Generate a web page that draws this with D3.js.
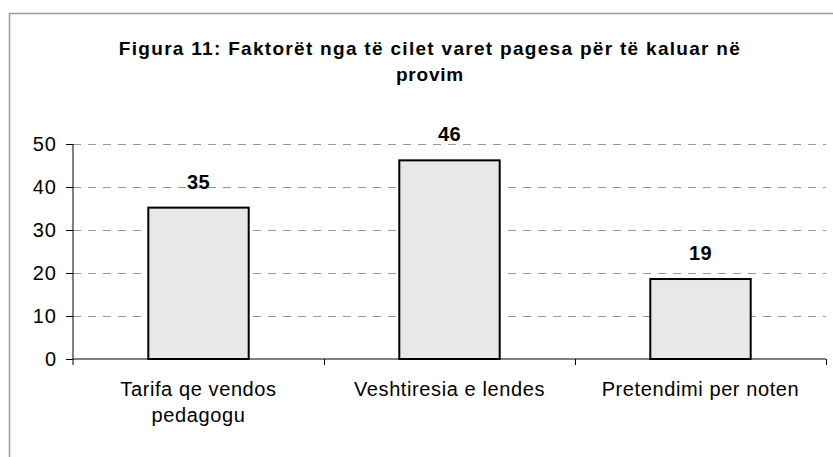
<!DOCTYPE html>
<html>
<head>
<meta charset="utf-8">
<script src="https://cdn.jsdelivr.net/npm/d3@7"></script>
<style>
  body { margin: 0; background: #fff; }
  svg { display: block; font-family: "Liberation Sans", Arial, sans-serif; }
</style>
</head>
<body>
<svg id="chart" width="833" height="457"></svg>
<script>
// chart data
var titleLines = ["Figura 11: Faktorët nga të cilet varet pagesa për të kaluar në", "provim"];
var categories = [["Tarifa qe vendos", "pedagogu"], ["Veshtiresia e lendes"], ["Pretendimi per noten"]];
var values = [35.2, 46.2, 18.6];
var valueLabels = ["35", "46", "19"];
var yTicks = [0, 10, 20, 30, 40, 50];

var width = 833, height = 457;
var margin = { top: 144, right: 7, bottom: 98, left: 73 };
var plotRight = width - margin.right;
var plotBottom = height - margin.bottom;

var svg = d3.select("#chart");

// outer frame, runs off the right and bottom edges
svg.append("rect")
    .attr("x", 9.5).attr("y", 13.5)
    .attr("width", 900).attr("height", 600)
    .attr("fill", "none")
    .attr("stroke", "#999")
    .attr("stroke-width", 1.5);

// scales
var x = d3.scaleBand()
    .domain(d3.range(categories.length))
    .range([margin.left, plotRight])
    .paddingInner(0).paddingOuter(0);

var xEdges = d3.scaleLinear()
    .domain([0, categories.length])
    .range([margin.left, plotRight]);

var y = d3.scaleLinear()
    .domain([0, 50])
    .range([plotBottom, margin.top]);

// gridlines
svg.append("g")
    .attr("transform", "translate(" + margin.left + ",0)")
    .call(d3.axisLeft(y).tickValues(yTicks.slice(1)).tickSize(-(plotRight - margin.left)).tickFormat(""))
    .call(function(g) {
        g.select(".domain").remove();
        g.selectAll("line")
            .attr("stroke", "#999")
            .attr("stroke-dasharray", "8,7");
    });

// bars
var barWidth = x.bandwidth() * 0.4;
svg.append("g").selectAll("rect")
    .data(values)
    .enter()
    .append("rect")
    .attr("x", function(d, i) { return x(i) + (x.bandwidth() - barWidth) / 2; })
    .attr("y", function(d) { return y(d); })
    .attr("width", barWidth)
    .attr("height", function(d) { return y(0) - y(d); })
    .attr("fill", "#e8e8e8")
    .attr("stroke", "#000")
    .attr("stroke-width", 2);

// value labels
svg.append("g").selectAll("text")
    .data(values)
    .enter()
    .append("text")
    .attr("x", function(d, i) { return x(i) + x.bandwidth() / 2; })
    .attr("y", function(d) { return y(d) - 19; })
    .attr("text-anchor", "middle")
    .attr("font-size", 20)
    .attr("font-weight", "bold")
    .attr("letter-spacing", 0.5)
    .text(function(d, i) { return valueLabels[i]; });

// y axis
svg.append("g")
    .attr("transform", "translate(" + margin.left + ",0)")
    .call(d3.axisLeft(y).tickValues(yTicks).tickSize(7).tickPadding(9))
    .call(function(g) {
        g.select(".domain").attr("stroke", "#000").attr("d", "M0," + y(50) + "V" + (plotBottom + 6));
        g.selectAll("line").attr("stroke", "#000");
        g.selectAll("text").attr("font-size", 20).attr("fill", "#000")
            .attr("font-family", null).attr("letter-spacing", 1);
    });

// x axis with ticks on category edges
svg.append("g")
    .attr("transform", "translate(0," + plotBottom + ")")
    .call(d3.axisBottom(xEdges).tickValues(d3.range(1, categories.length + 1)).tickSize(6).tickFormat(""))
    .call(function(g) {
        g.select(".domain").attr("stroke", "#000").attr("d", "M" + margin.left + ",0H" + plotRight);
        g.selectAll("line").attr("stroke", "#000");
    });

// category labels
var catG = svg.append("g").selectAll("text")
    .data(categories)
    .enter()
    .append("text")
    .attr("text-anchor", "middle")
    .attr("font-size", 20)
    .attr("letter-spacing", 0.6)
    .attr("fill", "#000");
catG.selectAll("tspan")
    .data(function(d, i) { return d.map(function(s) { return { s: s, i: i }; }); })
    .enter()
    .append("tspan")
    .attr("x", function(d) { return x(d.i) + x.bandwidth() / 2; })
    .attr("y", function(d, j) { return 396 + j * 26; })
    .text(function(d) { return d.s; });

// title
svg.append("g").selectAll("text")
    .data(titleLines)
    .enter()
    .append("text")
    .attr("x", 430)
    .attr("y", function(d, i) { return 55 + i * 26; })
    .attr("text-anchor", "middle")
    .attr("font-size", 19)
    .attr("font-weight", "bold")
    .attr("letter-spacing", function(d, i) { return i === 0 ? 1.3 : 0.8; })
    .text(function(d) { return d; });
</script>
</body>
</html>
